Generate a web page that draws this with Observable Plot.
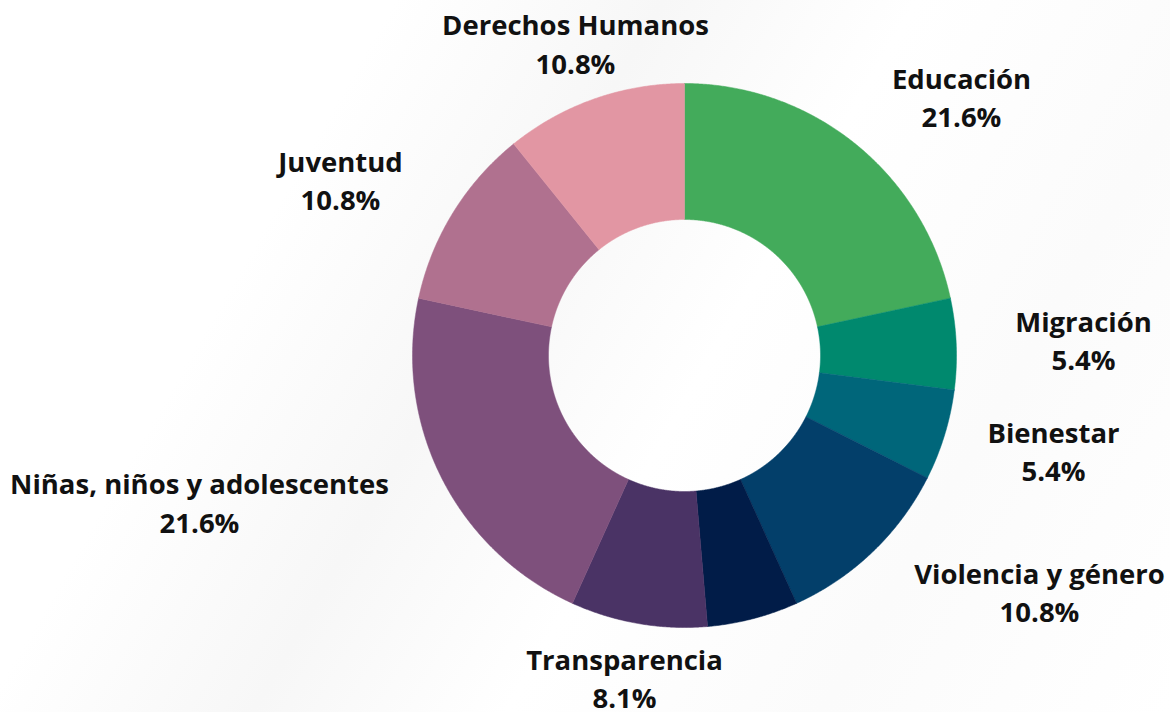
<!DOCTYPE html>
<html>
<head>
<meta charset="utf-8">
<script src="https://cdn.jsdelivr.net/npm/d3@7"></script>
<script src="https://cdn.jsdelivr.net/npm/@observablehq/plot@0.6"></script>
<style>
  html, body { margin: 0; padding: 0; background: #ffffff; }
  #chart { width: 1170px; height: 712px; }
</style>
</head>
<body>
<div id="chart"></div>
<script>
// ---- Data ----
const categories = [
  "Educación",
  "Migración",
  "Bienestar",
  "Violencia y género",
  "Otro",
  "Transparencia",
  "Niñas, niños y adolescentes",
  "Juventud",
  "Derechos Humanos"
];
const values = [21.6, 5.4, 5.4, 10.8, 5.4, 8.1, 21.6, 10.8, 10.8];
const showLabel = [true, true, true, true, false, true, true, true, true];
const colors = ["#43ab5b", "#00896e", "#00667a", "#033f6a", "#011c48", "#4a3365", "#7e507c", "#b0718f", "#e296a3"];

// ---- Layout (pixel geometry, separate from data) ----
const W = 1170, H = 712;
const CX = 684, CY = 355;
const R_OUT = 272, R_IN = 136;
const labelAnchor = [
  [961, 95], [1083, 338], [1053, 449], [1039, 590], null,
  [624, 676], [199, 500.5], [340, 178], [575, 41.5]
];

// ---- Build slices via d3.pie ----
const pie = d3.pie().sort(null).value(d => d.value);
const rows = categories.map((c, i) => ({category: c, value: values[i], color: colors[i], i}));
const arcs = pie(rows);

const pts = [];
for (const a of arcs) {
  const n = Math.max(8, Math.ceil((a.endAngle - a.startAngle) / 0.005));
  const ring = [];
  for (let k = 0; k <= n; k++) {
    const t = a.startAngle + (a.endAngle - a.startAngle) * k / n;
    ring.push([R_OUT * Math.sin(t), -R_OUT * Math.cos(t)]);
  }
  for (let k = n; k >= 0; k--) {
    const t = a.startAngle + (a.endAngle - a.startAngle) * k / n;
    ring.push([R_IN * Math.sin(t), -R_IN * Math.cos(t)]);
  }
  ring.push(ring[0]);
  for (const [x, y] of ring) pts.push({x, y, category: a.data.category});
}

const labels = rows
  .filter(d => showLabel[d.i])
  .map(d => ({
    text: `${d.category}\n${d.value.toFixed(1)}%`,
    x: labelAnchor[d.i][0] - CX,
    y: labelAnchor[d.i][1] - CY
  }));

const chart = Plot.plot({
  width: W,
  height: H,
  margin: 0,
  x: {domain: [-CX, W - CX], range: [0, W], axis: null},
  y: {domain: [-CY, H - CY], range: [0, H], axis: null},
  color: {domain: categories, range: colors},
  style: {
    background: "linear-gradient(120deg, #ffffff 0%, #ffffff 25%, #f7f7f7 42%, #ffffff 58%, #fbfbfb 78%, #ffffff 100%)",
    overflow: "visible"
  },
  marks: [
    Plot.line(pts, {x: "x", y: "y", z: "category", fill: "category", stroke: "category", strokeWidth: 0.5, curve: "linear"}),
    Plot.text(labels, {
      x: "x", y: "y", text: "text",
      fontSize: 27.5, fontWeight: 700,
      fontFamily: "'Open Sans', sans-serif",
      fill: "#111111",
      lineHeight: 1.4,
      textAnchor: "middle"
    })
  ]
});
document.getElementById("chart").appendChild(chart);
</script>
</body>
</html>
